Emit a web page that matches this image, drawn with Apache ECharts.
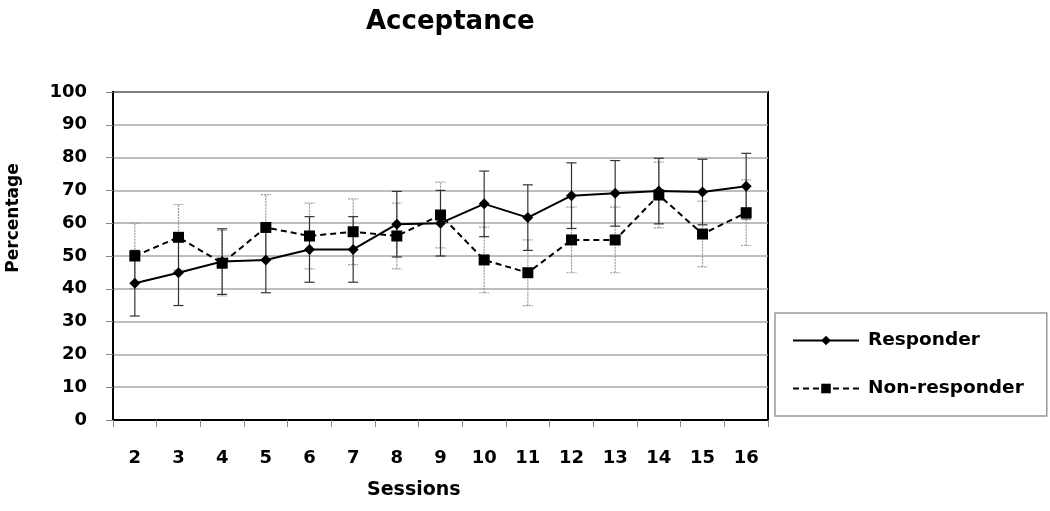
<!DOCTYPE html>
<html>
<head>
<meta charset="utf-8">
<script src="https://cdn.jsdelivr.net/npm/echarts@6/dist/echarts.min.js"></script>
<style>
  html, body { margin: 0; padding: 0; background: #fff; }
  #chart { width: 1050px; height: 511px; }
</style>
</head>
<body>
<div id="chart"></div>
<script>
// sessions on the x axis
var sessions = ['2', '3', '4', '5', '6', '7', '8', '9', '10', '11', '12', '13', '14', '15', '16'];
// mean acceptance (%)
var responder = [41.7, 44.9, 48.3, 48.8, 52.0, 52.0, 59.7, 60.0, 65.9, 61.7, 68.4, 69.1, 69.8, 69.5, 71.3];
var nonResponder = [50.0, 55.7, 47.8, 58.7, 56.1, 57.4, 56.1, 62.5, 48.8, 44.9, 54.9, 54.9, 68.6, 56.7, 63.2];
// error bar half-widths
var responderErr = [10, 10, 10, 10, 10, 10, 10, 10, 10, 10, 10, 10, 10, 10, 10];
var nonResponderErr = [10, 10, 10, 10, 10, 10, 10, 10, 10, 10, 10, 10, 10, 10, 10];

var font = '"DejaVu Sans", sans-serif';

function errData(vals, errs) {
  return vals.map(function (v, i) { return [i, v - errs[i], v + errs[i]]; });
}

function errRender(color, dash) {
  return function (params, api) {
    var x = api.value(0);
    var lo = api.coord([x, api.value(1)]);
    var hi = api.coord([x, api.value(2)]);
    var w = 5;
    var style = { stroke: color, lineWidth: 1.2, lineDash: dash };
    return {
      type: 'group',
      children: [
        { type: 'line', shape: { x1: lo[0], y1: lo[1], x2: hi[0], y2: hi[1] }, style: style },
        { type: 'line', shape: { x1: lo[0] - w, y1: lo[1], x2: lo[0] + w, y2: lo[1] }, style: style },
        { type: 'line', shape: { x1: hi[0] - w, y1: hi[1], x2: hi[0] + w, y2: hi[1] }, style: style }
      ]
    };
  };
}

var chart = echarts.init(document.getElementById('chart'));
chart.setOption({
  animation: false,
  backgroundColor: '#fff',
  title: {
    text: 'Acceptance',
    left: 361,
    top: 4,
    textStyle: { fontFamily: font, fontWeight: 'bold', fontSize: 26, color: '#000' }
  },
  legend: {
    orient: 'vertical',
    left: 775,
    top: 313,
    padding: [18, 23, 18, 17],
    itemGap: 29,
    itemWidth: 66,
    itemHeight: 12,
    borderColor: '#999',
    borderWidth: 1.5,
    data: ['Responder', 'Non-responder'],
    textStyle: { fontFamily: font, fontWeight: 'bold', fontSize: 18.5, color: '#000', padding: [0, 0, 0, 4] }
  },
  grid: {
    left: 113,
    top: 92,
    width: 655,
    height: 328,
    show: true,
    borderColor: '#000',
    borderWidth: 2
  },
  xAxis: {
    type: 'category',
    data: sessions,
    boundaryGap: true,
    axisLine: { lineStyle: { color: '#000', width: 2 } },
    axisTick: { show: true, length: 7, lineStyle: { color: '#888' } },
    axisLabel: { margin: 29, fontFamily: font, fontWeight: 'bold', fontSize: 18, color: '#000' },
    splitLine: { show: false }
  },
  yAxis: {
    type: 'value',
    min: 0,
    max: 100,
    interval: 10,
    axisLine: { show: true, lineStyle: { color: '#000', width: 2 } },
    axisTick: { show: true, length: 7, lineStyle: { color: '#888' } },
    axisLabel: { margin: 26, fontFamily: font, fontWeight: 'bold', fontSize: 18, color: '#000' },
    splitLine: { lineStyle: { color: '#a8a8a8', width: 1.5 } }
  },
  graphic: [
    {
      type: 'text',
      left: 367,
      top: 481,
      style: { text: 'Sessions', font: 'bold 19px ' + font, fill: '#000' }
    },
    {
      type: 'text',
      x: 14,
      y: 218,
      rotation: Math.PI / 2,
      style: { text: 'Percentage', font: 'bold 17px ' + font, fill: '#000', align: 'center', verticalAlign: 'middle' }
    }
  ],
  series: [
    {
      type: 'custom',
      name: 'resErr',
      renderItem: errRender('#9a9a9a', [2, 1]),
      data: errData(nonResponder, nonResponderErr),
      z: 1,
      silent: true
    },
    {
      type: 'custom',
      name: 'respErr',
      renderItem: errRender('#333', null),
      data: errData(responder, responderErr),
      z: 2,
      silent: true
    },
    {
      name: 'Responder',
      type: 'line',
      data: responder,
      symbol: 'diamond',
      symbolSize: 11,
      itemStyle: { color: '#000' },
      lineStyle: { color: '#000', width: 2 },
      z: 4
    },
    {
      name: 'Non-responder',
      type: 'line',
      data: nonResponder,
      symbol: 'rect',
      symbolSize: 11,
      itemStyle: { color: '#000' },
      lineStyle: { color: '#000', width: 2, type: [6, 4] },
      z: 3
    }
  ]
});
</script>
</body>
</html>
